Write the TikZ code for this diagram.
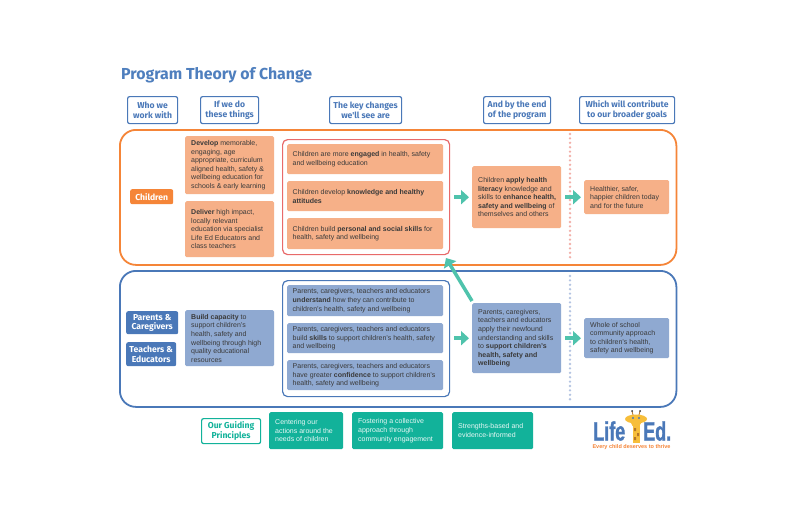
\documentclass[tikz,border=0pt]{standalone}
\usepackage{fontspec}
\setmainfont{Liberation Sans}
\newfontfamily\headfont{Fira Sans}
\newfontfamily\logofont[BoldFeatures={FakeBold=1.2,FakeStretch=0.68}]{Liberation Sans}
\usetikzlibrary{arrows.meta}
\definecolor{hblue}{HTML}{4A78B8}
\definecolor{title}{HTML}{4F7FBE}
\definecolor{orng}{HTML}{F58538}
\definecolor{peach}{HTML}{F6B088}
\definecolor{slate}{HTML}{8FA9D1}
\definecolor{pinkred}{HTML}{E86A6A}
\definecolor{teal}{HTML}{12B29A}
\definecolor{arrowteal}{HTML}{4FC3AC}
\definecolor{dotpink}{HTML}{F2AFA8}
\definecolor{dotblue}{HTML}{B4C4E2}
\definecolor{giraffe}{HTML}{F7BE3A}
\definecolor{neckspot}{HTML}{B5752A}
\definecolor{txt}{HTML}{3A3A3A}
\tikzset{
  x=1pt,y=-1pt,
  textbox/.style={anchor=north west,rounded corners=1.5pt,inner sep=0pt,text=txt,font=\fontsize{7}{8.6}\selectfont,align=left},
  peachbox/.style={textbox,fill=peach},
  slatebox/.style={textbox,fill=slate},
  tealbox/.style={textbox,fill=teal,text=white!90!teal},
  headbox/.style={anchor=north west,draw=hblue,line width=1.2pt,rounded corners=2pt,fill=white,inner sep=0pt,text=hblue,align=center,font=\headfont\bfseries\fontsize{8.6}{9.8}\selectfont},
  whobox/.style={anchor=north west,rounded corners=2pt,inner sep=0pt,text=white,align=center,font=\headfont\bfseries\fontsize{8.6}{9.4}\selectfont},
  groupbox/.style={anchor=north west,line width=1.8pt,rounded corners=16pt,inner sep=0pt},
  innerbox/.style={anchor=north west,line width=1.2pt,rounded corners=5pt,inner sep=0pt},
  fat/.style={draw=arrowteal,line width=3.5pt,-{Triangle[length=8pt,width=14pt]}},
  dotline/.style={line width=2.6pt,line cap=round,dash pattern=on 0pt off 4.4pt},
  logotext/.style={anchor=base west,inner sep=0pt,text=hblue,font=\logofont\bfseries\fontsize{26.5}{27}\selectfont},
}
\newcommand{\bx}[8]{% name, style, x0,y0,x1,y1, textwidth, text
  \node[#2,minimum width=#5pt-#3pt,minimum height=#6pt-#4pt] (#1) at (#3,#4) {\parbox{#7pt}{\raggedright #8}};}
\begin{document}
\begin{tikzpicture}
\useasboundingbox[fill=white] (0,0) rectangle (800,520);
\node[anchor=west,inner sep=0pt,text=title,font=\headfont\bfseries\fontsize{15.9}{17}\selectfont] (ttl) at (121,75) {Program Theory of Change};
% headers
\node[headbox,minimum width=50pt,minimum height=27pt] (h1) at (127,96) {Who we\\work with};
\node[headbox,minimum width=58pt,minimum height=27pt] (h2) at (200,96) {If we do\\these things};
\node[headbox,minimum width=72pt,minimum height=27pt] (h3) at (329,96) {The key changes\\we'll see are};
\node[headbox,minimum width=67pt,minimum height=27pt] (h4) at (483,96) {And by the end\\of the program};
\node[headbox,minimum width=95pt,minimum height=27pt] (h5) at (579,96) {Which will contribute\\to our broader goals};
% groups
\node[groupbox,draw=orng,minimum width=556.5pt,minimum height=135pt] (gchild) at (119,129) {};
\node[groupbox,draw=hblue,minimum width=556.5pt,minimum height=136pt] (gadult) at (119,270) {};
\node[innerbox,draw=pinkred,minimum width=167pt,minimum height=115pt] (rchild) at (282,139) {};
\node[innerbox,draw=hblue,minimum width=167pt,minimum height=116pt] (radult) at (282,280) {};
% dotted dividers
\coordinate (dp1) at (570,134); \coordinate (dp2) at (570,260);
\coordinate (db1) at (570,276); \coordinate (db2) at (570,401);
\draw[dotline,draw=dotpink] (dp1) -- (dp2);
\draw[dotline,draw=dotblue] (db1) -- (db2);
% who
\node[whobox,fill=orng,minimum width=43pt,minimum height=15pt] (wchild) at (130,189) {Children};
\node[whobox,fill=hblue,minimum width=52pt,minimum height=23pt] (wpar) at (126,311) {Parents \&\\Caregivers};
\node[whobox,fill=hblue,minimum width=50pt,minimum height=24pt] (wtea) at (126,342) {Teachers \&\\Educators};
% children row
\bx{dev}{peachbox}{185}{136}{274}{194}{77}{\textbf{Develop} memorable,\\engaging, age\\appropriate, curriculum\\aligned health, safety \&\\wellbeing education for\\schools \& early learning}
\bx{del}{peachbox}{185}{201}{274}{257}{77}{\textbf{Deliver} high impact,\\locally relevant\\education via specialist\\Life Ed Educators and\\class teachers}
\bx{k1}{peachbox}{287}{144}{443}{174}{145}{Children are more \textbf{engaged} in health, safety\\and wellbeing education}
\bx{k2}{peachbox}{287}{181}{443}{211}{145}{Children develop \textbf{knowledge and healthy}\\\textbf{attitudes}}
\bx{k3}{peachbox}{287}{218}{443}{249}{145}{Children build \textbf{personal and social skills} for\\health, safety and wellbeing}
\bx{app}{peachbox}{472}{166}{561}{228}{77}{\mbox{Children \textbf{apply health}}\\\mbox{\textbf{literacy} knowledge and}\\\mbox{skills to \textbf{enhance health,}}\\\mbox{\textbf{safety and wellbeing} of}\\themselves and others}
\bx{goal}{peachbox}{584}{180}{669}{214}{73}{Healthier, safer,\\happier children today\\and for the future}
% adults row
\bx{bld}{slatebox}{185}{310}{274}{366}{77}{\textbf{Build capacity} to\\support children's\\health, safety and\\wellbeing through high\\quality educational\\resources}
\bx{a1}{slatebox}{287}{285}{443}{316}{145}{Parents, caregivers, teachers and educators\\\textbf{understand} how they can contribute to\\children's health, safety and wellbeing}
\bx{a2}{slatebox}{287}{323}{443}{353}{145}{Parents, caregivers, teachers and educators\\build \textbf{skills} to support children's health, safety\\and wellbeing}
\bx{a3}{slatebox}{287}{360}{443}{390}{145}{Parents, caregivers, teachers and educators\\have greater \textbf{confidence} to support children's\\health, safety and wellbeing}
\bx{pap}{slatebox}{472}{303}{561}{373}{77}{Parents, caregivers,\\teachers and educators\\apply their newfound\\understanding and skills\\to \textbf{support children's}\\\textbf{health, safety and}\\\textbf{wellbeing}}
\bx{whl}{slatebox}{584}{318}{669}{358}{73}{Whole of school\\community approach\\to children's health,\\safety and wellbeing}
% principles
\node[anchor=north west,draw=teal,line width=1.2pt,rounded corners=2pt,inner sep=0pt,text=teal,align=center,font=\headfont\bfseries\fontsize{8.6}{9.6}\selectfont,minimum width=59pt,minimum height=25pt] (gp) at (201,418) {Our Guiding\\Principles};
\bx{p1}{tealbox}{269}{412}{343}{449}{62}{Centering our\\actions around the\\needs of children}
\bx{p2}{tealbox}{352}{412}{443}{449}{79}{Fostering a collective\\approach through\\community engagement}
\bx{p3}{tealbox}{452}{412}{533}{449}{69}{Strengths-based and\\evidence-informed}
% arrows
\draw[fat,shorten <=4pt,shorten >=3pt] (rchild.east |- app.west) -- (app.west);
\draw[fat,shorten <=4pt,shorten >=3pt] (app.east) -- (goal.west);
\draw[fat,shorten <=4pt,shorten >=3pt] (radult.east |- pap.west) -- (pap.west);
\draw[fat,shorten <=4pt,shorten >=3pt] (pap.east |- whl.west) -- (whl.west);
\coordinate (diag1) at (472,301);
\coordinate (diag2) at (446,258);
\draw[fat] (diag1) -- (diag2);
% logo
\fill[giraffe] (632.5,424) rectangle (640,443);
\fill[neckspot] (634,428) rectangle (636,431) (637,433) rectangle (639,436) (634,437) rectangle (636,440);
\fill[giraffe] (636,419) ellipse (11pt and 4.5pt);
\fill[giraffe] (636,423) ellipse (5pt and 4pt);
\draw[neckspot,line width=.8pt] (633,415) -- (632,411) (639,415) -- (640,411);
\fill[txt] (632,411) circle (1pt) (640,411) circle (1pt);
\fill[hblue] (633,418) circle (1.2pt) (639,418) circle (1.2pt);
\node[logotext] (lifetxt) at (593,440.5) {Life};
\node[logotext] (edtxt) at (643,440.5) {Ed.};
\node[inner sep=0pt,text=orng,font=\bfseries\fontsize{5.5}{6}\selectfont] (tag) at (631.5,447) {Every child deserves to thrive};
\end{tikzpicture}
\end{document}
